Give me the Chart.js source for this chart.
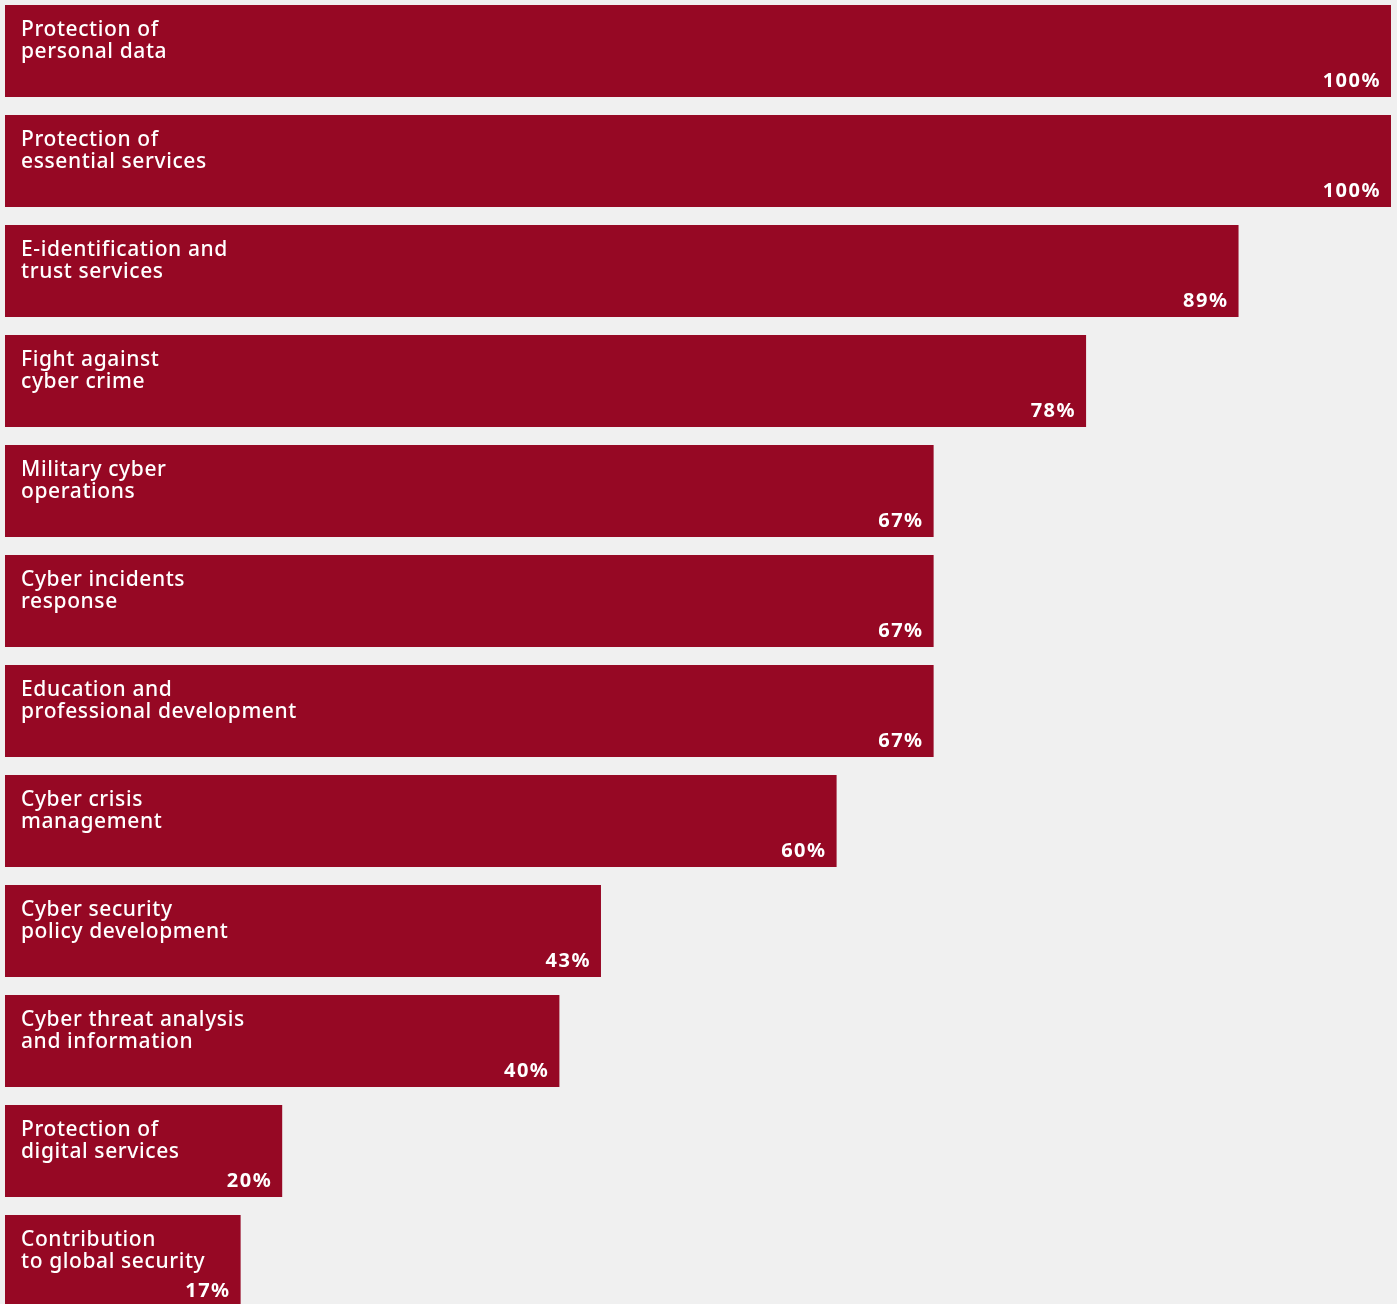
<!DOCTYPE html>
<html>
<head>
    <title>Cyber security areas</title>
    <script src="https://cdn.jsdelivr.net/npm/chart.js"></script>
    <style>
        body {
            margin: 0;
            padding: 0;
            background-color: #f0f0f0;
            overflow: hidden;
        }

        .wrap {
            position: relative;
            width: 1397px;
            height: 1320px;
            margin-top: -4px;
        }
    </style>
</head>
<body>
    <div class="wrap">
        <canvas id="areasChart"></canvas>
    </div>

    <script>
        var categories = [
            ["Protection of", "personal data"],
            ["Protection of", "essential services"],
            ["E-identification and", "trust services"],
            ["Fight against", "cyber crime"],
            ["Military cyber", "operations"],
            ["Cyber incidents", "response"],
            ["Education and", "professional development"],
            ["Cyber crisis", "management"],
            ["Cyber security", "policy development"],
            ["Cyber threat analysis", "and information"],
            ["Protection of", "digital services"],
            ["Contribution", "to global security"]
        ];
        var shares = [100, 100, 89, 78, 67, 67, 67, 60, 43, 40, 20, 17];

        var barColor = '#960824';
        var labelFont = '500 21px "Noto Sans"';
        var valueFont = 'bold 20px "Noto Sans"';

        // Labels inside each bar: name top-left, value bottom-right
        var barLabels = {
            id: 'barLabels',
            afterDatasetsDraw: function(chart) {
                var ctx = chart.ctx;
                var meta = chart.getDatasetMeta(0);
                ctx.save();
                ctx.fillStyle = '#ffffff';
                meta.data.forEach(function(bar, i) {
                    var top = bar.y - bar.height / 2;
                    var bottom = bar.y + bar.height / 2;
                    var left = bar.base;

                    ctx.font = labelFont;
                    ctx.letterSpacing = '0.6px';
                    ctx.textAlign = 'left';
                    ctx.textBaseline = 'alphabetic';
                    categories[i].forEach(function(line, j) {
                        ctx.fillText(line, left + 16, top + 31 + j * 22);
                    });

                    ctx.font = valueFont;
                    ctx.letterSpacing = '1.5px';
                    ctx.textAlign = 'right';
                    ctx.fillText(shares[i] + '%', bar.x - 10, bottom - 10);
                });
                ctx.restore();
            }
        };

        var ctx = document.getElementById('areasChart').getContext('2d');
        var areasChart = new Chart(ctx, {
            type: 'bar',
            data: {
                labels: categories,
                datasets: [{
                    data: shares,
                    backgroundColor: barColor,
                    borderWidth: 0,
                    categoryPercentage: 1,
                    barPercentage: 92 / 110
                }]
            },
            options: {
                indexAxis: 'y',
                responsive: true,
                maintainAspectRatio: false,
                animation: false,
                layout: {
                    padding: { left: 5, right: 6, top: 0, bottom: 0 }
                },
                scales: {
                    x: { min: 0, max: 100, display: false },
                    y: { display: false }
                },
                plugins: {
                    legend: { display: false },
                    tooltip: { enabled: false }
                }
            },
            plugins: [barLabels]
        });
    </script>
</body>
</html>
